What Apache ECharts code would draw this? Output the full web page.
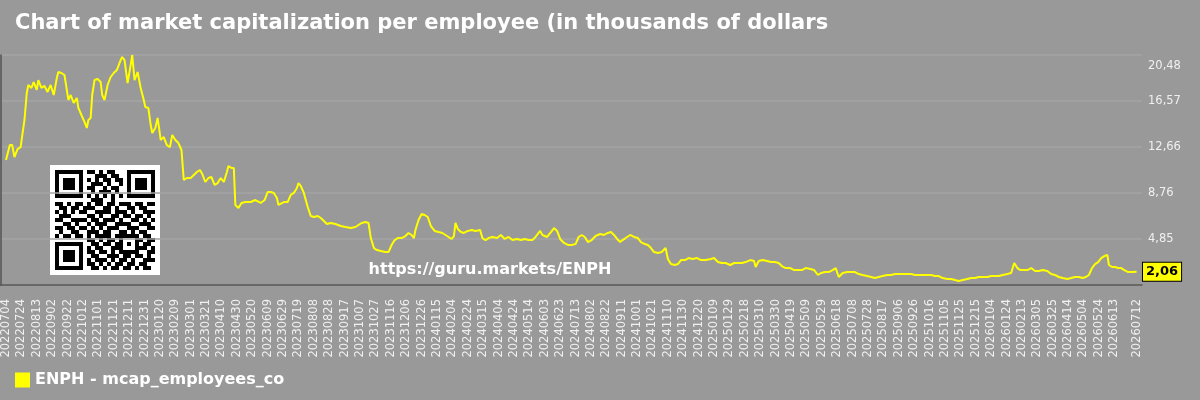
<!DOCTYPE html>
<html>
<head>
<meta charset="utf-8">
<title>ENPH - market capitalization per employee</title>
<script src="https://cdn.jsdelivr.net/npm/echarts@6/dist/echarts.min.js"></script>
<style>
  html, body { margin: 0; padding: 0; background: #999999; }
  #chart { width: 1200px; height: 400px; }
</style>
</head>
<body>
<div id="chart"></div>
<script>
// axis: one category per calendar day from 2022-07-04
const startDate = [2022, 7, 4];
const dayCount = 1470;
const labelStep = 20;

// y axis ticks: 0,94 4,85 8,76 12,66 16,57 20,48
const yMin = 0.941;
const yStep = 3.9075;
const yTickCount = 5;

const seriesName = 'ENPH - mcap_employees_co';
const titleText = 'Chart of market capitalization per employee (in thousands of dollars';
const watermarkText = 'https://guru.markets/ENPH';

// [days since start, value]
const mcapReadings = [
  [0, 11.56], [5, 12.83], [8, 12.83], [11, 11.81], [15, 12.49], [19, 12.66], [21, 12.75], [24, 14.96],
  [27, 17.25], [29, 17.93], [33, 17.68], [36, 18.18], [40, 17.51], [42, 18.35], [46, 17.68], [50, 17.85],
  [54, 17.34], [58, 17.93], [62, 17.08], [66, 18.52], [68, 19.03], [72, 18.95], [76, 18.78], [79, 17.51],
  [81, 16.66], [84, 17.08], [88, 16.40], [92, 16.83], [94, 15.98], [98, 15.38], [102, 14.79], [105, 14.28],
  [107, 14.96], [110, 15.13], [112, 17.08], [115, 18.35], [119, 18.44], [123, 18.18], [125, 17.08], [128, 16.66],
  [132, 17.93], [136, 18.61], [140, 18.95], [144, 19.20], [146, 19.54], [149, 20.05], [151, 20.31], [154, 20.05],
  [158, 18.10], [162, 19.63], [164, 20.48], [167, 18.35], [171, 19.03], [175, 17.68], [179, 16.66], [181, 16.06],
  [185, 15.98], [188, 14.53], [190, 13.85], [194, 14.28], [197, 15.13], [201, 13.26], [205, 13.51], [209, 12.83],
  [213, 12.66], [216, 13.68], [220, 13.26], [224, 13.00], [228, 12.41], [231, 9.86], [235, 10.03], [240, 10.03],
  [244, 10.28], [248, 10.54], [252, 10.71], [255, 10.37], [259, 9.69], [263, 10.03], [267, 10.11], [271, 9.44],
  [275, 9.60], [279, 10.03], [283, 9.69], [287, 10.54], [289, 11.05], [293, 10.88], [296, 10.88], [298, 7.74],
  [302, 7.48], [306, 7.91], [311, 7.99], [318, 7.99], [324, 8.16], [331, 7.91], [336, 8.16], [340, 8.84],
  [344, 8.84], [348, 8.76], [352, 8.33], [354, 7.74], [361, 7.99], [366, 7.99], [370, 8.59], [374, 8.76],
  [378, 9.18], [380, 9.60], [383, 9.35], [387, 8.76], [392, 7.57], [396, 6.80], [400, 6.72], [405, 6.80],
  [409, 6.63], [413, 6.38], [417, 6.12], [422, 6.21], [428, 6.12], [435, 5.95], [441, 5.87], [448, 5.78],
  [454, 5.87], [458, 6.04], [462, 6.21], [467, 6.29], [471, 6.21], [474, 4.93], [478, 4.08], [482, 3.91],
  [487, 3.83], [493, 3.74], [497, 3.74], [501, 4.34], [505, 4.76], [509, 4.93], [514, 4.93], [519, 5.10],
  [523, 5.36], [527, 5.19], [530, 4.93], [532, 5.61], [536, 6.46], [540, 6.97], [544, 6.89], [548, 6.72],
  [552, 5.95], [557, 5.53], [562, 5.44], [567, 5.36], [571, 5.19], [575, 5.02], [579, 4.85], [582, 5.10],
  [584, 6.21], [587, 5.70], [591, 5.44], [595, 5.36], [600, 5.53], [605, 5.61], [610, 5.53], [616, 5.61],
  [619, 4.93], [623, 4.76], [627, 4.93], [632, 5.02], [638, 4.93], [643, 5.19], [648, 4.85], [653, 5.02],
  [658, 4.76], [664, 4.85], [669, 4.76], [674, 4.85], [679, 4.76], [684, 4.76], [688, 5.02], [694, 5.53],
  [697, 5.19], [703, 5.02], [708, 5.44], [712, 5.78], [716, 5.53], [720, 4.85], [725, 4.51], [730, 4.34],
  [735, 4.34], [740, 4.42], [744, 5.02], [748, 5.19], [752, 5.02], [756, 4.59], [761, 4.76], [766, 5.10],
  [772, 5.27], [777, 5.19], [782, 5.36], [786, 5.44], [790, 5.19], [794, 4.85], [798, 4.59], [801, 4.76],
  [805, 4.93], [811, 5.19], [816, 5.02], [821, 4.93], [825, 4.59], [830, 4.42], [834, 4.34], [838, 4.08],
  [842, 3.74], [847, 3.66], [852, 3.74], [857, 4.08], [860, 3.15], [864, 2.72], [869, 2.64], [873, 2.72],
  [877, 3.06], [882, 3.06], [887, 3.23], [892, 3.15], [898, 3.23], [903, 3.06], [909, 3.06], [916, 3.15],
  [920, 3.23], [925, 2.89], [930, 2.81], [935, 2.81], [941, 2.64], [946, 2.81], [951, 2.81], [956, 2.81],
  [961, 2.89], [967, 3.06], [972, 2.98], [974, 2.47], [978, 2.98], [983, 3.06], [989, 2.98], [994, 2.89],
  [999, 2.89], [1004, 2.81], [1008, 2.55], [1013, 2.38], [1019, 2.38], [1024, 2.21], [1029, 2.21], [1034, 2.21],
  [1039, 2.38], [1045, 2.30], [1050, 2.21], [1055, 1.79], [1059, 1.96], [1064, 2.04], [1069, 2.04], [1074, 2.21],
  [1078, 2.38], [1082, 1.62], [1087, 1.96], [1093, 2.04], [1098, 2.04], [1103, 2.04], [1108, 1.87], [1113, 1.79],
  [1119, 1.70], [1124, 1.62], [1129, 1.53], [1134, 1.62], [1139, 1.70], [1145, 1.79], [1150, 1.79], [1155, 1.87],
  [1160, 1.87], [1165, 1.87], [1171, 1.87], [1176, 1.87], [1181, 1.79], [1186, 1.79], [1191, 1.79], [1197, 1.79],
  [1202, 1.79], [1207, 1.70], [1212, 1.70], [1217, 1.53], [1223, 1.45], [1228, 1.45], [1233, 1.36], [1238, 1.28],
  [1243, 1.36], [1249, 1.45], [1254, 1.53], [1259, 1.53], [1264, 1.62], [1269, 1.62], [1275, 1.62], [1280, 1.70],
  [1285, 1.70], [1290, 1.70], [1295, 1.79], [1301, 1.87], [1306, 1.96], [1310, 2.81], [1314, 2.38], [1318, 2.21],
  [1321, 2.21], [1327, 2.21], [1332, 2.38], [1337, 2.13], [1342, 2.13], [1347, 2.21], [1353, 2.13], [1358, 1.87],
  [1363, 1.79], [1368, 1.62], [1373, 1.53], [1379, 1.45], [1384, 1.53], [1389, 1.62], [1394, 1.62], [1399, 1.53],
  [1403, 1.62], [1407, 1.79], [1411, 2.38], [1415, 2.72], [1419, 2.89], [1423, 3.23], [1427, 3.40], [1431, 3.49],
  [1433, 2.64], [1437, 2.47], [1441, 2.47], [1445, 2.38], [1449, 2.38], [1453, 2.21], [1458, 2.04], [1463, 2.04],
  [1469, 2.06]
];

// qr code in the corner (decoration)
const qrRows = [
  '1111111011010110001111111',
  '1000001000111011001000001',
  '1011101010101101101011101',
  '1011101001110100101011101',
  '1011101011001011001011101',
  '1000001001011101001000001',
  '1111111010101010101111111',
  '0000000001110010000000000',
  '1101011010110110111011011',
  '0110110111001101001101100',
  '1010101100111101110100111',
  '0111000011010011011011010',
  '1100111101101110100110101',
  '0011010010111001111001110',
  '1101101101010111001110011',
  '0100110011101100110101100',
  '1011011010111101111110110',
  '0000000011010110100011011',
  '1111111001101101101010110',
  '1000001010110011100011101',
  '1011101011011010111110011',
  '1011101001100111011011010',
  '1011101010111010110100111',
  '1000001011010101101101100',
  '1111111001101011011010110'
];

const PAD = 7; // empty slots at both ends of the x axis
const categories = [];
for (let i = 0; i < PAD; i++) categories.push('pad' + i);
const t0 = Date.UTC(startDate[0], startDate[1] - 1, startDate[2]);
for (let i = 0; i < dayCount; i++) {
  const d = new Date(t0 + i * 86400000);
  categories.push('' + d.getUTCFullYear() +
    String(d.getUTCMonth() + 1).padStart(2, '0') +
    String(d.getUTCDate()).padStart(2, '0'));
}
for (let i = 0; i < PAD; i++) categories.push('padEnd' + i);

const lastDay = dayCount - 1;
const lastValue = mcapReadings[mcapReadings.length - 1][1];
const yMax = +(yMin + yStep * yTickCount).toFixed(4);
const fmt = v => v.toFixed(2).replace('.', ',');

const qrChildren = [{ type: 'rect', shape: { x: 0, y: 0, width: 110, height: 110 }, style: { fill: '#ffffff' } }];
qrRows.forEach((row, r) => {
  let c = 0;
  while (c < row.length) {
    if (row[c] === '1') {
      let e = c;
      while (e < row.length && row[e] === '1') e++;
      qrChildren.push({
        type: 'rect',
        shape: { x: 5 + c * 4, y: 5 + r * 4, width: (e - c) * 4, height: 4 },
        style: { fill: '#000000' }
      });
      c = e;
    } else {
      c++;
    }
  }
});

const chart = echarts.init(document.getElementById('chart'), null, { renderer: 'canvas' });

const option = {
  animation: false,
  backgroundColor: '#999999',
  textStyle: { fontFamily: 'DejaVu Sans' },
  title: {
    text: titleText,
    left: 15,
    top: 13,
    padding: 0,
    textStyle: { color: '#ffffff', fontSize: 21, fontWeight: 'bold', fontFamily: 'DejaVu Sans' }
  },
  legend: {
    left: 15,
    top: 372,
    padding: 0,
    icon: 'rect',
    itemWidth: 15,
    itemHeight: 15,
    textStyle: { color: '#ffffff', fontSize: 16, fontWeight: 'bold', fontFamily: 'DejaVu Sans' },
    data: [seriesName]
  },
  grid: { left: 0, right: 58, top: 55, bottom: 115, containLabel: false },
  xAxis: {
    type: 'category',
    data: categories,
    boundaryGap: false,
    axisLine: { lineStyle: { color: '#555555', width: 1.5 } },
    axisTick: { show: false },
    splitLine: { show: false },
    axisLabel: {
      rotate: 90,
      margin: 14,
      color: '#f0f0f0',
      fontSize: 11.5,
      interval: (idx) => {
        const day = idx - PAD;
        if (day < 0 || day > lastDay) return false;
        if (day === lastDay) return true;
        return day % labelStep === 0 && lastDay - day >= labelStep;
      }
    }
  },
  yAxis: [
    {
      type: 'value',
      position: 'right',
      min: yMin,
      max: yMax,
      interval: yStep,
      axisLine: { show: false },
      axisTick: { show: false },
      splitLine: { lineStyle: { color: '#a4a4a4', width: 1.5 } },
      axisLabel: {
        showMinLabel: false,
        color: '#f0f0f0',
        fontSize: 11.5,
        margin: 6,
        lineHeight: 22,
        verticalAlignMaxLabel: 'top',
        formatter: fmt
      }
    },
    {
      type: 'value',
      position: 'left',
      min: yMin,
      max: yMax,
      axisLine: { show: true, lineStyle: { color: '#555555', width: 1.5 } },
      axisTick: { show: false },
      axisLabel: { show: false },
      splitLine: { show: false }
    }
  ],
  series: [
    {
      name: seriesName,
      type: 'line',
      yAxisIndex: 0,
      data: mcapReadings.map(p => [PAD + p[0], p[1]]),
      showSymbol: false,
      clip: false,
      color: '#ffff00',
      lineStyle: { color: '#ffff00', width: 2 },
      markLine: {
        silent: true,
        symbol: 'none',
        lineStyle: { color: 'rgba(0,0,0,0)' },
        label: {
          position: 'end',
          distance: 1,
          formatter: fmt(lastValue),
          backgroundColor: '#ffff00',
          borderColor: '#000000',
          borderWidth: 1,
          padding: [3, 3, 2, 3],
          color: '#000000',
          fontWeight: 'bold',
          fontSize: 13,
          fontFamily: 'DejaVu Sans'
        },
        data: [{ yAxis: lastValue }]
      }
    }
  ],
  graphic: [
    { type: 'group', x: 50, y: 165, children: qrChildren },
    {
      type: 'text',
      x: 490,
      y: 270,
      style: {
        text: watermarkText,
        fill: '#ffffff',
        font: 'bold 16px "DejaVu Sans"',
        textAlign: 'center',
        textVerticalAlign: 'middle'
      }
    }
  ]
};

chart.setOption(option);
</script>
</body>
</html>
